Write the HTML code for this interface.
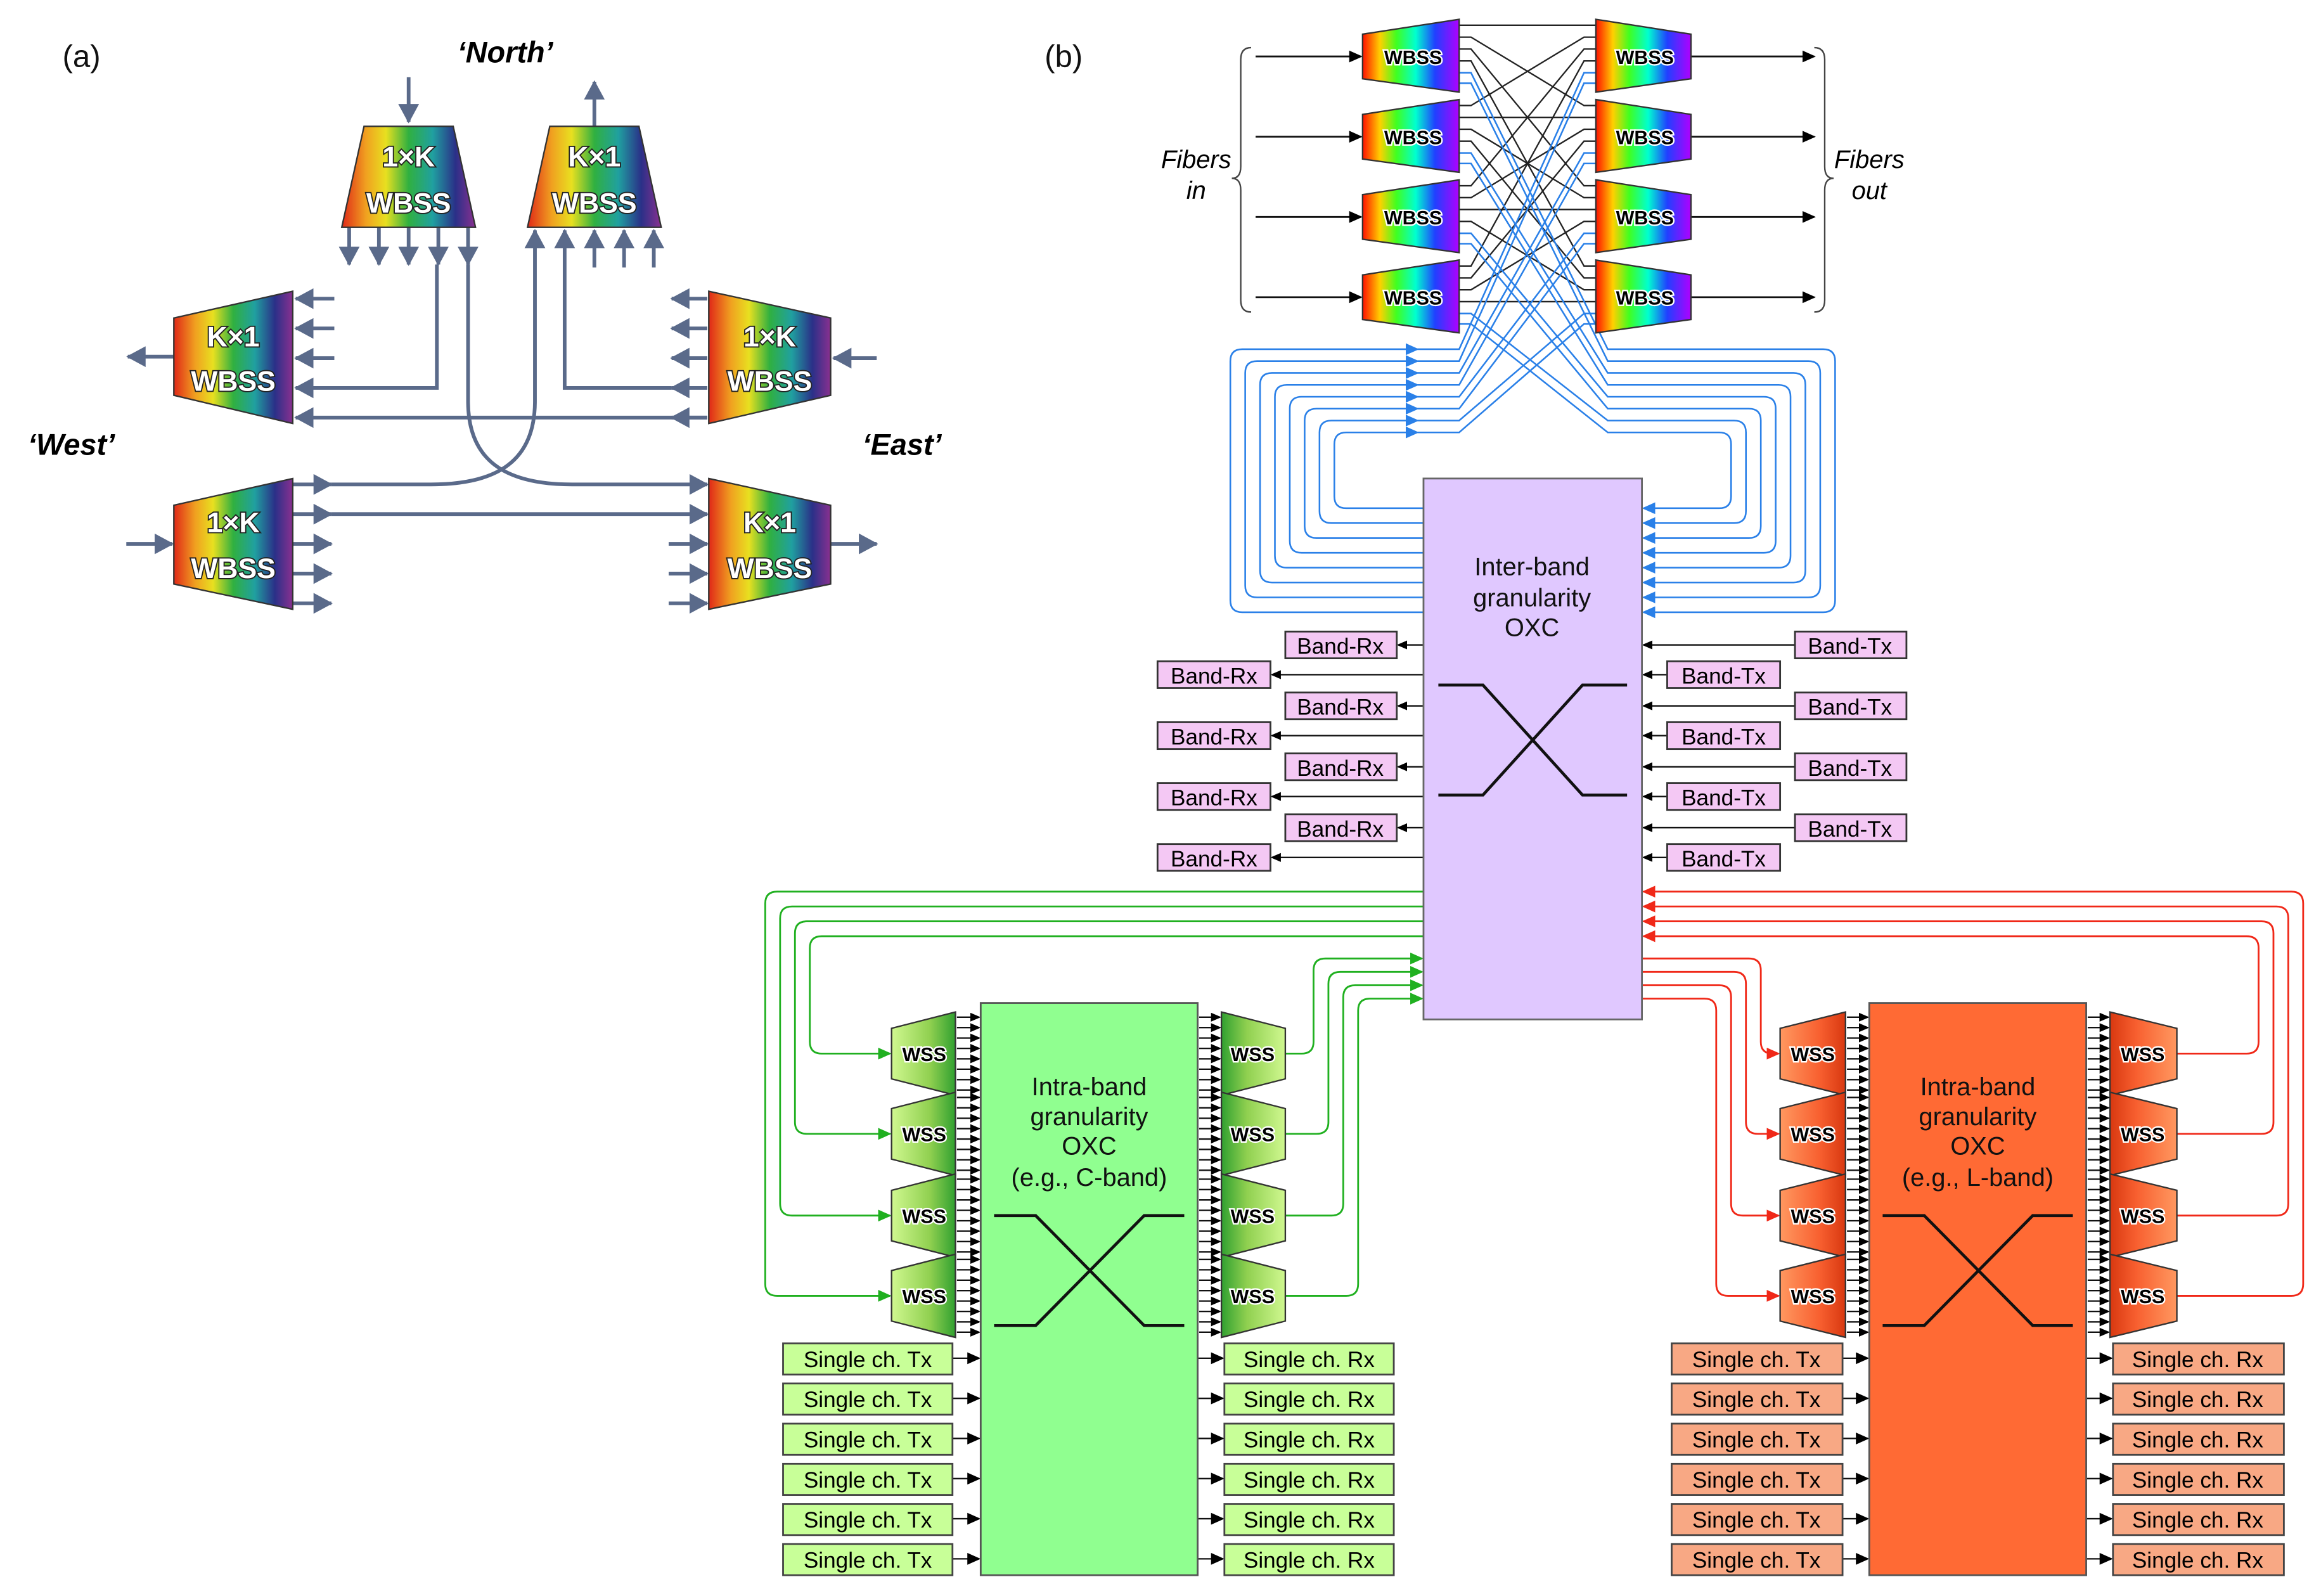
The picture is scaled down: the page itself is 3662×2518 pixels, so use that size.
<!DOCTYPE html>
<html><head><meta charset="utf-8"><style>
html,body{margin:0;padding:0;background:#fff}
svg{display:block}
text{font-family:"Liberation Sans",sans-serif}
.wa{font-weight:bold;font-size:19px;fill:#fff;stroke:#222;stroke-width:1.6px;paint-order:stroke;text-anchor:middle}
.wb{font-weight:bold;font-size:13px;fill:#000;stroke:#fff;stroke-width:2px;paint-order:stroke;text-anchor:middle}
.lb{font-size:15px;fill:#000;text-anchor:middle}
.ox{font-size:17px;fill:#111;text-anchor:middle}
.al{fill:none;stroke:#5a6a8a;stroke-width:2.5}
</style></head><body>
<svg id="s" xmlns="http://www.w3.org/2000/svg" width="3662" height="2518" viewBox="0 0 1562 1074" preserveAspectRatio="none">
<defs>
<linearGradient id="rA" x1="0" x2="1" y1="0" y2="0">
<stop offset="0" stop-color="#e02818"/><stop offset="0.18" stop-color="#f0a020"/><stop offset="0.33" stop-color="#e8e020"/><stop offset="0.5" stop-color="#30b040"/><stop offset="0.68" stop-color="#20a0a0"/><stop offset="0.85" stop-color="#2a3088"/><stop offset="1" stop-color="#8a3090"/></linearGradient>
<linearGradient id="rB" x1="0" x2="1" y1="0" y2="0">
<stop offset="0" stop-color="#ff1000"/><stop offset="0.18" stop-color="#ffd000"/><stop offset="0.35" stop-color="#40ff20"/><stop offset="0.55" stop-color="#00ffd0"/><stop offset="0.75" stop-color="#2040ff"/><stop offset="1" stop-color="#b000ff"/></linearGradient>
<linearGradient id="gW" x1="0" x2="1"><stop offset="0" stop-color="#d0f890"/><stop offset="0.6" stop-color="#90d050"/><stop offset="1" stop-color="#30a030"/></linearGradient>
<linearGradient id="gW2" x1="1" x2="0"><stop offset="0" stop-color="#d0f890"/><stop offset="0.6" stop-color="#90d050"/><stop offset="1" stop-color="#30a030"/></linearGradient>
<linearGradient id="oW" x1="0" x2="1"><stop offset="0" stop-color="#ff9860"/><stop offset="0.6" stop-color="#f86030"/><stop offset="1" stop-color="#d83810"/></linearGradient>
<linearGradient id="oW2" x1="1" x2="0"><stop offset="0" stop-color="#ff9860"/><stop offset="0.6" stop-color="#f86030"/><stop offset="1" stop-color="#d83810"/></linearGradient>
<marker id="mA" markerUnits="userSpaceOnUse" markerWidth="14" markerHeight="14" refX="12" refY="7" orient="auto"><path d="M0,0 L13,7 L0,14 z" fill="#5a6a8a"/></marker>
<marker id="mK" markerUnits="userSpaceOnUse" markerWidth="9" markerHeight="8" refX="8" refY="4" orient="auto"><path d="M0,0 L9,4 L0,8 z" fill="#000"/></marker>
<marker id="mS" markerUnits="userSpaceOnUse" markerWidth="7" markerHeight="6" refX="6" refY="3" orient="auto"><path d="M0,0 L7,3 L0,6 z" fill="#000"/></marker>
<marker id="mB" markerUnits="userSpaceOnUse" markerWidth="9" markerHeight="8" refX="8" refY="4" orient="auto"><path d="M0,0 L9,4 L0,8 z" fill="#2a80e8"/></marker>
<marker id="mG" markerUnits="userSpaceOnUse" markerWidth="9" markerHeight="8" refX="8" refY="4" orient="auto"><path d="M0,0 L9,4 L0,8 z" fill="#20b020"/></marker>
<marker id="mR" markerUnits="userSpaceOnUse" markerWidth="9" markerHeight="8" refX="8" refY="4" orient="auto"><path d="M0,0 L9,4 L0,8 z" fill="#f02818"/></marker>
</defs>

<!-- ===== (a) ===== -->
<text x="42" y="45" font-size="21" fill="#111">(a)</text>
<text x="340" y="42" font-size="20" font-weight="bold" font-style="italic" text-anchor="middle">‘North’</text>
<text x="48" y="306" font-size="20" font-weight="bold" font-style="italic" text-anchor="middle">‘West’</text>
<text x="607" y="306" font-size="20" font-weight="bold" font-style="italic" text-anchor="middle">‘East’</text>
<g id="aL">
<path class="al" d="M275,52 L275,82" marker-end="url(#mA)"/>
<path class="al" d="M235,153 L235,178" marker-end="url(#mA)"/>
<path class="al" d="M255,153 L255,178" marker-end="url(#mA)"/>
<path class="al" d="M275,153 L275,178" marker-end="url(#mA)"/>
<path class="al" d="M295,153 L295,178" marker-end="url(#mA)"/>
<path class="al" d="M315,153 L315,178" marker-end="url(#mA)"/>
<path class="al" d="M400,85 L400,55" marker-end="url(#mA)"/>
<path class="al" d="M400,180 L400,155" marker-end="url(#mA)"/>
<path class="al" d="M420,180 L420,155" marker-end="url(#mA)"/>
<path class="al" d="M440,180 L440,155" marker-end="url(#mA)"/>
<path class="al" d="M117,240 L86,240" marker-end="url(#mA)"/>
<path class="al" d="M225,201 L199,201" marker-end="url(#mA)"/>
<path class="al" d="M225,221 L199,221" marker-end="url(#mA)"/>
<path class="al" d="M225,241 L199,241" marker-end="url(#mA)"/>
<path class="al" d="M294,178 L294,261 L199,261" marker-end="url(#mA)"/>
<path class="al" d="M476,281 L199,281" marker-end="url(#mA)"/>
<path class="al" d="M590,241 L561,241" marker-end="url(#mA)"/>
<path class="al" d="M476,201 L452,201" marker-end="url(#mA)"/>
<path class="al" d="M476,221 L452,221" marker-end="url(#mA)"/>
<path class="al" d="M476,241 L452,241" marker-end="url(#mA)"/>
<path class="al" d="M476,261 L452,261" marker-end="url(#mA)"/>
<path class="al" d="M476,281 L452,281" marker-end="url(#mA)"/>
<path class="al" d="M452,261 L380,261 L380,155" marker-end="url(#mA)"/>
<path class="al" d="M85,366 L116,366" marker-end="url(#mA)"/>
<path class="al" d="M197,326 L223,326" marker-end="url(#mA)"/>
<path class="al" d="M197,346 L223,346" marker-end="url(#mA)"/>
<path class="al" d="M197,366 L223,366" marker-end="url(#mA)"/>
<path class="al" d="M197,386 L223,386" marker-end="url(#mA)"/>
<path class="al" d="M197,406 L223,406" marker-end="url(#mA)"/>
<path class="al" d="M223,326 L290,326 C335,326 360,310 360,270 L360,155" marker-end="url(#mA)"/>
<path class="al" d="M223,346 L476,346" marker-end="url(#mA)"/>
<path class="al" d="M315,178 L315,270 C315,310 340,326 385,326 L476,326" marker-end="url(#mA)"/>
<path class="al" d="M450,366 L476,366" marker-end="url(#mA)"/>
<path class="al" d="M450,386 L476,386" marker-end="url(#mA)"/>
<path class="al" d="M450,406 L476,406" marker-end="url(#mA)"/>
<path class="al" d="M559,366 L590,366" marker-end="url(#mA)"/>
</g>
<polygon points="245,85 305,85 320,153 230,153" fill="url(#rA)" stroke="#333" stroke-width="1"/>
<polygon points="370,85 430,85 445,153 355,153" fill="url(#rA)" stroke="#333" stroke-width="1"/>
<polygon points="117,214 197,196 197,285 117,266" fill="url(#rA)" stroke="#333" stroke-width="1"/>
<polygon points="477,196 559,214 559,266 477,285" fill="url(#rA)" stroke="#333" stroke-width="1"/>
<polygon points="117,340 197,322 197,410 117,393" fill="url(#rA)" stroke="#333" stroke-width="1"/>
<polygon points="477,322 559,340 559,393 477,410" fill="url(#rA)" stroke="#333" stroke-width="1"/>
<text class="wa" x="275" y="112">1×K</text><text class="wa" x="275" y="143">WBSS</text>
<text class="wa" x="400" y="112">K×1</text><text class="wa" x="400" y="143">WBSS</text>
<text class="wa" x="157" y="233">K×1</text><text class="wa" x="157" y="263">WBSS</text>
<text class="wa" x="518" y="233">1×K</text><text class="wa" x="518" y="263">WBSS</text>
<text class="wa" x="157" y="358">1×K</text><text class="wa" x="157" y="389">WBSS</text>
<text class="wa" x="518" y="358">K×1</text><text class="wa" x="518" y="389">WBSS</text>

<!-- ===== (b) ===== -->
<text x="703" y="45" font-size="21" fill="#111">(b)</text>
<text x="805" y="113" font-size="17" font-style="italic" text-anchor="middle">Fibers</text>
<text x="805" y="134" font-size="17" font-style="italic" text-anchor="middle">in</text>
<text x="1258" y="113" font-size="17" font-style="italic" text-anchor="middle">Fibers</text>
<text x="1258" y="134" font-size="17" font-style="italic" text-anchor="middle">out</text>
<path d="M842,32 Q835,32 835,40 L835,112 Q835,120 829,120 Q835,120 835,128 L835,202 Q835,210 842,210" fill="none" stroke="#444" stroke-width="1"/>
<path d="M1221,32 Q1228,32 1228,40 L1228,112 Q1228,120 1234,120 Q1228,120 1228,128 L1228,202 Q1228,210 1221,210" fill="none" stroke="#444" stroke-width="1"/>

<g id="lines"></g>

<!-- Inter-band OXC -->
<rect x="958" y="322" width="147" height="364" fill="#e0c8ff" stroke="#666" stroke-width="1.2"/>
<text class="ox" x="1031" y="387">Inter-band</text>
<text class="ox" x="1031" y="408">granularity</text>
<text class="ox" x="1031" y="428">OXC</text>
<path d="M968,461 L998,461 L1065,535 L1095,535 M968,535 L998,535 L1065,461 L1095,461" fill="none" stroke="#111" stroke-width="2"/>

<!-- Intra-band OXCs -->
<rect x="660" y="675" width="146" height="385" fill="#90ff90" stroke="#555" stroke-width="1.2"/>
<text class="ox" x="733" y="737">Intra-band</text>
<text class="ox" x="733" y="757">granularity</text>
<text class="ox" x="733" y="777">OXC</text>
<text class="ox" x="733" y="798">(e.g., C-band)</text>
<path d="M669,818 L697,818 L770,892 L797,892 M669,892 L697,892 L770,818 L797,818" fill="none" stroke="#111" stroke-width="2"/>
<rect x="1258" y="675" width="146" height="385" fill="#ff6a34" stroke="#555" stroke-width="1.2"/>
<text class="ox" x="1331" y="737">Intra-band</text>
<text class="ox" x="1331" y="757">granularity</text>
<text class="ox" x="1331" y="777">OXC</text>
<text class="ox" x="1331" y="798">(e.g., L-band)</text>
<path d="M1267,818 L1295,818 L1368,892 L1395,892 M1267,892 L1295,892 L1368,818 L1395,818" fill="none" stroke="#111" stroke-width="2"/>

<g id="shapes"></g>

<!-- WBSS labels -->
<text class="wb" x="951" y="43">WBSS</text><text class="wb" x="951" y="97">WBSS</text><text class="wb" x="951" y="151">WBSS</text><text class="wb" x="951" y="205">WBSS</text>
<text class="wb" x="1107" y="43">WBSS</text><text class="wb" x="1107" y="97">WBSS</text><text class="wb" x="1107" y="151">WBSS</text><text class="wb" x="1107" y="205">WBSS</text>
<!-- WSS labels -->
<text class="wb" x="622" y="714">WSS</text><text class="wb" x="622" y="768">WSS</text><text class="wb" x="622" y="823">WSS</text><text class="wb" x="622" y="877">WSS</text>
<text class="wb" x="843" y="714">WSS</text><text class="wb" x="843" y="768">WSS</text><text class="wb" x="843" y="823">WSS</text><text class="wb" x="843" y="877">WSS</text>
<text class="wb" x="1220" y="714">WSS</text><text class="wb" x="1220" y="768">WSS</text><text class="wb" x="1220" y="823">WSS</text><text class="wb" x="1220" y="877">WSS</text>
<text class="wb" x="1442" y="714">WSS</text><text class="wb" x="1442" y="768">WSS</text><text class="wb" x="1442" y="823">WSS</text><text class="wb" x="1442" y="877">WSS</text>

<!-- Band boxes -->
<g fill="#f4c8f4" stroke="#333" stroke-width="1.2">
<rect x="865" y="425" width="75" height="18"/><rect x="865" y="466" width="75" height="18"/><rect x="865" y="507" width="75" height="18"/><rect x="865" y="548" width="75" height="18"/>
<rect x="779" y="445" width="76" height="18"/><rect x="779" y="486" width="76" height="18"/><rect x="779" y="527" width="76" height="18"/><rect x="779" y="568" width="76" height="18"/>
<rect x="1122" y="445" width="76" height="18"/><rect x="1122" y="486" width="76" height="18"/><rect x="1122" y="527" width="76" height="18"/><rect x="1122" y="568" width="76" height="18"/>
<rect x="1208" y="425" width="75" height="18"/><rect x="1208" y="466" width="75" height="18"/><rect x="1208" y="507" width="75" height="18"/><rect x="1208" y="548" width="75" height="18"/>
</g>
<g class="lb">
<text class="lb" x="902" y="440">Band-Rx</text><text class="lb" x="902" y="481">Band-Rx</text><text class="lb" x="902" y="522">Band-Rx</text><text class="lb" x="902" y="563">Band-Rx</text>
<text class="lb" x="817" y="460">Band-Rx</text><text class="lb" x="817" y="501">Band-Rx</text><text class="lb" x="817" y="542">Band-Rx</text><text class="lb" x="817" y="583">Band-Rx</text>
<text class="lb" x="1160" y="460">Band-Tx</text><text class="lb" x="1160" y="501">Band-Tx</text><text class="lb" x="1160" y="542">Band-Tx</text><text class="lb" x="1160" y="583">Band-Tx</text>
<text class="lb" x="1245" y="440">Band-Tx</text><text class="lb" x="1245" y="481">Band-Tx</text><text class="lb" x="1245" y="522">Band-Tx</text><text class="lb" x="1245" y="563">Band-Tx</text>
</g>

<!-- Single ch boxes -->
<g stroke="#444" stroke-width="1.2">
<g fill="#c8ff98">
<rect x="527" y="904" width="114" height="21"/><rect x="527" y="931" width="114" height="21"/><rect x="527" y="958" width="114" height="21"/><rect x="527" y="985" width="114" height="21"/><rect x="527" y="1012" width="114" height="21"/><rect x="527" y="1039" width="114" height="21"/>
<rect x="824" y="904" width="114" height="21"/><rect x="824" y="931" width="114" height="21"/><rect x="824" y="958" width="114" height="21"/><rect x="824" y="985" width="114" height="21"/><rect x="824" y="1012" width="114" height="21"/><rect x="824" y="1039" width="114" height="21"/>
</g>
<g fill="#f8a884">
<rect x="1125" y="904" width="115" height="21"/><rect x="1125" y="931" width="115" height="21"/><rect x="1125" y="958" width="115" height="21"/><rect x="1125" y="985" width="115" height="21"/><rect x="1125" y="1012" width="115" height="21"/><rect x="1125" y="1039" width="115" height="21"/>
<rect x="1422" y="904" width="115" height="21"/><rect x="1422" y="931" width="115" height="21"/><rect x="1422" y="958" width="115" height="21"/><rect x="1422" y="985" width="115" height="21"/><rect x="1422" y="1012" width="115" height="21"/><rect x="1422" y="1039" width="115" height="21"/>
</g>
</g>
<text class="lb" x="584" y="920">Single ch. Tx</text><text class="lb" x="584" y="947">Single ch. Tx</text><text class="lb" x="584" y="974">Single ch. Tx</text><text class="lb" x="584" y="1001">Single ch. Tx</text><text class="lb" x="584" y="1028">Single ch. Tx</text><text class="lb" x="584" y="1055">Single ch. Tx</text>
<text class="lb" x="881" y="920">Single ch. Rx</text><text class="lb" x="881" y="947">Single ch. Rx</text><text class="lb" x="881" y="974">Single ch. Rx</text><text class="lb" x="881" y="1001">Single ch. Rx</text><text class="lb" x="881" y="1028">Single ch. Rx</text><text class="lb" x="881" y="1055">Single ch. Rx</text>
<text class="lb" x="1182" y="920">Single ch. Tx</text><text class="lb" x="1182" y="947">Single ch. Tx</text><text class="lb" x="1182" y="974">Single ch. Tx</text><text class="lb" x="1182" y="1001">Single ch. Tx</text><text class="lb" x="1182" y="1028">Single ch. Tx</text><text class="lb" x="1182" y="1055">Single ch. Tx</text>
<text class="lb" x="1479" y="920">Single ch. Rx</text><text class="lb" x="1479" y="947">Single ch. Rx</text><text class="lb" x="1479" y="974">Single ch. Rx</text><text class="lb" x="1479" y="1001">Single ch. Rx</text><text class="lb" x="1479" y="1028">Single ch. Rx</text><text class="lb" x="1479" y="1055">Single ch. Rx</text>
</svg>
<script>
(function(){
var NS="http://www.w3.org/2000/svg";
var LG=document.getElementById('lines'), SH=document.getElementById('shapes');
function P(g,d,st,w,m){var p=document.createElementNS(NS,'path');p.setAttribute('d',d);p.setAttribute('fill','none');p.setAttribute('stroke',st);p.setAttribute('stroke-width',w);if(m)p.setAttribute('marker-end','url(#'+m+')');g.appendChild(p);}
function PG(pts,fill){var p=document.createElementNS(NS,'polygon');p.setAttribute('points',pts);p.setAttribute('fill',fill);p.setAttribute('stroke','#333');p.setAttribute('stroke-width','1');SH.appendChild(p);}
var B='#2a80e8',G='#20b020',R='#f02818',K='#111';
var cT=[38,92,146,200];
// top WBSS
for(var i=0;i<4;i++){var c=cT[i];
 P(LG,'M845,'+c+' L916,'+c,K,1.2,'mK');
 P(LG,'M1138,'+c+' L1221,'+c,K,1.2,'mK');
 PG('917,'+(c-15)+' 982,'+(c-25)+' 982,'+(c+24)+' 917,'+(c+15),'url(#rB)');
 PG('1074,'+(c-25)+' 1138,'+(c-15)+' 1138,'+(c+15)+' 1074,'+(c+24),'url(#rB)');
 for(var j=0;j<4;j++){var y1=cT[i]-21+j*8,y2=cT[j]-21+i*8;
  P(LG,'M982,'+y1+' L990,'+y1+' L1066,'+y2+' L1074,'+y2,'#222',1);}
}
// blue
for(var i=0;i<4;i++)for(var b=0;b<2;b++){var m=i*2+b;
 var y1=cT[i]+11+b*7, yt=235+m*8, X=1235-m*10, bot=412-m*10;
 P(LG,'M982,'+y1+' L990,'+y1+' L1082,'+yt+' L'+(X-8)+','+yt+' Q'+X+','+yt+' '+X+','+(yt+8)+' L'+X+','+(bot-8)+' Q'+X+','+bot+' '+(X-8)+','+bot+' L1106,'+bot,B,1.1,'mB');
 var XL=828+m*10, top=235+m*8, botL=412-m*10, y2=cT[i]+11+b*7;
 P(LG,'M958,'+botL+' L'+(XL+8)+','+botL+' Q'+XL+','+botL+' '+XL+','+(botL-8)+' L'+XL+','+(top+8)+' Q'+XL+','+top+' '+(XL+8)+','+top+' L954,'+top,B,1.1,'mB');
 P(LG,'M954,'+top+' L982,'+top+' L1066,'+y2+' L1074,'+y2,B,1.1);
}
// band arrows
[434,475,516,557].forEach(function(r){P(LG,'M958,'+r+' L941,'+r,K,1,'mS');P(LG,'M1208,'+r+' L1106,'+r,K,1,'mS');});
[454,495,536,577].forEach(function(r){P(LG,'M958,'+r+' L856,'+r,K,1,'mS');P(LG,'M1122,'+r+' L1106,'+r,K,1,'mS');});
var cs=[709,763,818,872];
// green/red loops
for(var n=0;n<4;n++){var yo=600+n*10,X=515+n*10,c=cs[3-n];
 P(LG,'M958,'+yo+' L'+(X+8)+','+yo+' Q'+X+','+yo+' '+X+','+(yo+8)+' L'+X+','+(c-8)+' Q'+X+','+c+' '+(X+8)+','+c+' L599,'+c,G,1.2,'mG');
 var XR=1550-n*10;
 P(LG,'M1465,'+c+' L'+(XR-8)+','+c+' Q'+XR+','+c+' '+XR+','+(c-8)+' L'+XR+','+(yo+8)+' Q'+XR+','+yo+' '+(XR-8)+','+yo+' L1106,'+yo,R,1.2,'mR');
}
for(var j=0;j<4;j++){var c=cs[j],X=884+j*10,yt=645+j*9;
 P(LG,'M865,'+c+' L'+(X-8)+','+c+' Q'+X+','+c+' '+X+','+(c-8)+' L'+X+','+(yt+8)+' Q'+X+','+yt+' '+(X+8)+','+yt+' L957,'+yt,G,1.2,'mG');
 var XR=1185-j*10;
 P(LG,'M1105,'+yt+' L'+(XR-8)+','+yt+' Q'+XR+','+yt+' '+XR+','+(yt+8)+' L'+XR+','+(c-8)+' Q'+XR+','+c+' '+(XR+8)+','+c+' L1197,'+c,R,1.2,'mR');
}
// WSS shapes and small arrows
for(var j=0;j<4;j++){var c=cs[j];
 PG('600,'+(c-17)+' 643,'+(c-28)+' 643,'+(c+28)+' 600,'+(c+17),'url(#gW)');
 PG('822,'+(c-28)+' 865,'+(c-17)+' 865,'+(c+17)+' 822,'+(c+28),'url(#gW2)');
 PG('1198,'+(c-17)+' 1242,'+(c-28)+' 1242,'+(c+28)+' 1198,'+(c+17),'url(#oW)');
 PG('1420,'+(c-28)+' 1465,'+(c-17)+' 1465,'+(c+17)+' 1420,'+(c+28),'url(#oW2)');
 for(var k=0;k<8;k++){var y=c-24.5+k*7;
  P(LG,'M644,'+y+' L659,'+y,K,1,'mS');P(LG,'M807,'+y+' L821,'+y,K,1,'mS');
  P(LG,'M1243,'+y+' L1257,'+y,K,1,'mS');P(LG,'M1405,'+y+' L1419,'+y,K,1,'mS');}
}
[914,941,968,995,1022,1049].forEach(function(r){
 P(LG,'M641,'+r+' L659,'+r,K,1,'mK');P(LG,'M806,'+r+' L823,'+r,K,1,'mK');
 P(LG,'M1240,'+r+' L1257,'+r,K,1,'mK');P(LG,'M1404,'+r+' L1421,'+r,K,1,'mK');});
})();
</script>
</body></html>
